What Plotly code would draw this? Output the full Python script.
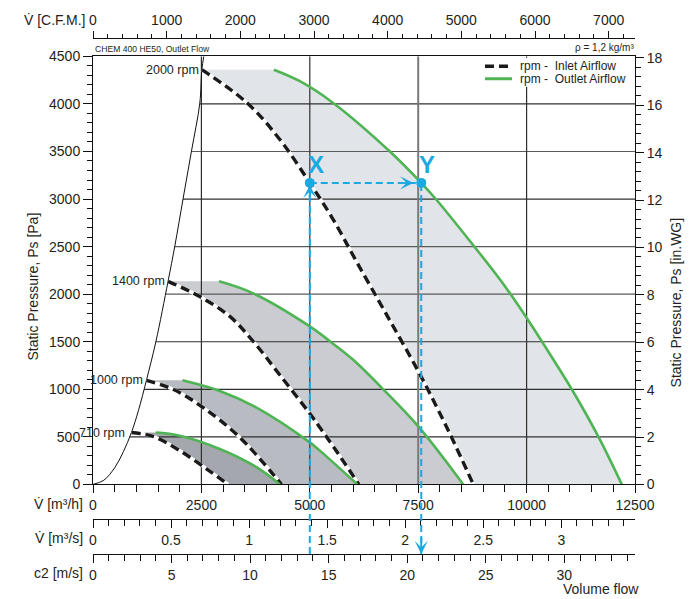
import numpy as np
import plotly.graph_objects as go

# ---------------- data ----------------
flow_ticks = [0, 2500, 5000, 7500, 10000, 12500]          # m3/h
cfm_ticks = [0, 1000, 2000, 3000, 4000, 5000, 6000, 7000]  # CFM
ms_ticks = [0, 0.5, 1, 1.5, 2, 2.5, 3]                     # m3/s
c2_ticks = [0, 5, 10, 15, 20, 25, 30]                      # m/s
pa_ticks = [0, 500, 1000, 1500, 2000, 2500, 3000, 3500, 4000, 4500]
inwg_ticks = [0, 2, 4, 6, 8, 10, 12, 14, 16, 18]

rpm_labels = ["2000 rpm", "1400 rpm", "1000 rpm", "710 rpm"]

inlet_2000_q = [2510, 3547, 4309, 5000, 5532, 6079, 6771, 7540, 8232, 8770]
inlet_2000_ps = [4360, 4013, 3626, 3170, 2790, 2341, 1784, 1157, 530, 0]
outlet_2000_q = [4170, 4770, 5532, 6847, 7570, 7925, 8763, 9425, 10002, 10349, 11041, 11655, 12195]
outlet_2000_ps = [4360, 4239, 4013, 3500, 3170, 2990, 2518, 2130, 1750, 1505, 1000, 502, 0]

inlet_1400_q = [1731, 2462, 3155, 3693, 4309, 5000, 5232, 5539, 6132]
inlet_1400_ps = [2135, 1975, 1766, 1505, 1150, 745, 599, 400, 0]
outlet_1400_q = [2907, 3693, 5000, 5463, 6000, 6693, 7540, 8539]
outlet_1400_ps = [2135, 2009, 1661, 1505, 1310, 1000, 590, 0]

inlet_1000_q = [1232, 1846, 2539, 3386, 4348]
inlet_1000_ps = [1094, 1000, 808, 494, 0]
outlet_1000_q = [2063, 2924, 3771, 5000, 5232, 6097]
outlet_1000_ps = [1094, 982, 808, 442, 355, 0]

inlet_710_q = [886, 1385, 2001, 2617, 3116]
inlet_710_ps = [545, 505, 355, 164, 0]
outlet_710_q = [1447, 2001, 2924, 3771, 4309]
outlet_710_ps = [545, 512, 373, 181, 0]

limit_q = [0, 250, 500, 700, 886, 1050, 1232, 1450, 1731, 1888, 2079, 2272, 2463, 2510, 2555]
limit_ps = [0, 44, 175, 343, 545, 780, 1094, 1500, 2135, 2508, 3007, 3506, 4008, 4360, 4500]

point_q = [5000, 7570]
point_ps = [3170, 3170]
point_labels = ["X", "Y"]

# ---------------- geometry / styles ----------------
W, H = 689, 599
L, R, T, B = 93, 54, 30, 45
PW = W - L - R
PH = H - T - B
FONT = "Liberation Sans, Arial, Helvetica, sans-serif"
TXT = "#231f20"
BLUE = "#1ca9e1"
GREEN = "#4fb453"
PA_MAX = 4500.0
PA_PER_INWG = 249.089
M3H_PER_CFM = 1.699


def xp(px):
    return (px - L) / PW


def yp(py):
    return (H - B - py) / PH


DOM = [yp(484), yp(53.5)]


def ps_to_paper(ps):
    return DOM[0] + ps / PA_MAX * (DOM[1] - DOM[0])


curves = [
    (inlet_2000_q, inlet_2000_ps, outlet_2000_q, outlet_2000_ps, "#e1e4e9"),
    (inlet_1400_q, inlet_1400_ps, outlet_1400_q, outlet_1400_ps, "#caccd2"),
    (inlet_1000_q, inlet_1000_ps, outlet_1000_q, outlet_1000_ps, "#b8bbc1"),
    (inlet_710_q, inlet_710_ps, outlet_710_q, outlet_710_ps, "#a4a7ad"),
]

fig = go.Figure()

# filled operating ranges
for iq, ips, oq, ops, col in curves:
    fig.add_trace(go.Scatter(
        x=list(iq) + list(oq)[::-1], y=list(ips) + list(ops)[::-1],
        fill="toself", fillcolor=col, mode="lines", line=dict(width=0, color=col),
        hoverinfo="skip", showlegend=False))

# grid lines (horizontal start at the limit curve)
for lvl in pa_ticks[1:-1]:
    start = float(np.interp(lvl, limit_ps, limit_q))
    gcol = "#5a5a5a" if lvl in (2000, 2500, 3500) else "#303030"
    fig.add_trace(go.Scatter(x=[start, flow_ticks[-1]], y=[lvl, lvl], mode="lines",
                             line=dict(color=gcol, width=1.2), hoverinfo="skip", showlegend=False))
for v in flow_ticks[1:-1]:
    gcol = "#7a7a7a" if v == 7500 else "#303030"
    gw = 2 if v == 7500 else 1.2
    fig.add_trace(go.Scatter(x=[v, v], y=[0, PA_MAX], mode="lines",
                             line=dict(color=gcol, width=gw), hoverinfo="skip", showlegend=False))

# limit curve
fig.add_trace(go.Scatter(x=limit_q, y=limit_ps, mode="lines", line=dict(color="#111", width=1, shape="spline"),
                         hoverinfo="skip", showlegend=False))

# fan curves
for iq, ips, oq, ops, col in curves:
    fig.add_trace(go.Scatter(x=iq, y=ips, mode="lines", line=dict(color="white", width=3.4, shape="spline"),
                             hoverinfo="skip", showlegend=False))
    fig.add_trace(go.Scatter(x=iq, y=ips, mode="lines",
                             line=dict(color="#1a1a1a", width=3.4, dash="9px,5px", shape="spline"),
                             hoverinfo="skip", showlegend=False))
    fig.add_trace(go.Scatter(x=oq, y=ops, mode="lines", line=dict(color=GREEN, width=2.6, shape="spline"),
                             hoverinfo="skip", showlegend=False))

# X / Y points
fig.add_trace(go.Scatter(x=point_q, y=point_ps, mode="markers", marker=dict(color=BLUE, size=10),
                         cliponaxis=False, hoverinfo="skip", showlegend=False))

# dummy traces so the extra axes are drawn
for xa, ya in (("x2", "y"), ("x3", "y"), ("x4", "y"), ("x", "y2")):
    fig.add_trace(go.Scatter(x=[0], y=[0], xaxis=xa, yaxis=ya, mode="markers",
                             marker=dict(opacity=0), hoverinfo="skip", showlegend=False))

tickfont = dict(family=FONT, size=14, color=TXT)
common = dict(showline=True, linecolor="#111", linewidth=1, showgrid=False, zeroline=False,
              tickcolor="#111", tickwidth=1, tickfont=tickfont, fixedrange=True)

fig.update_layout(
    width=W, height=H, autosize=False,
    margin=dict(l=L, r=R, t=T, b=B, pad=0),
    paper_bgcolor="white", plot_bgcolor="white",
    font=dict(family=FONT, color=TXT),
    showlegend=False,
    xaxis=dict(common, domain=[0, 1], range=[0, flow_ticks[-1]], anchor="y", mirror=True,
               tickmode="array", tickvals=flow_ticks, ticktext=[str(v) for v in flow_ticks],
               ticks="outside", ticklen=8,
               minor=dict(tickmode="linear", tick0=0, dtick=500, ticks="outside", ticklen=7, tickcolor="#111")),
    xaxis2=dict(common, overlaying="x", side="top", anchor="free", position=yp(35),
                range=[0, flow_ticks[-1] / M3H_PER_CFM],
                tickmode="array", tickvals=cfm_ticks, ticktext=[str(v) for v in cfm_ticks],
                ticks="outside", ticklen=7,
                minor=dict(tickmode="linear", tick0=0, dtick=200, ticks="outside", ticklen=4, tickcolor="#111")),
    xaxis3=dict(common, overlaying="x", side="bottom", anchor="free", position=yp(519),
                range=[0, flow_ticks[-1] / 3600.0],
                tickmode="array", tickvals=ms_ticks, ticktext=[("%g" % v) for v in ms_ticks],
                ticks="outside", ticklen=8,
                minor=dict(tickmode="linear", tick0=0, dtick=0.1, ticks="outside", ticklen=6, tickcolor="#111")),
    xaxis4=dict(common, overlaying="x", side="bottom", anchor="free", position=0,
                range=[0, 34.5],
                tickmode="array", tickvals=c2_ticks, ticktext=[str(v) for v in c2_ticks],
                ticks="outside", ticklen=8,
                minor=dict(tickmode="linear", tick0=0, dtick=1, ticks="outside", ticklen=6, tickcolor="#111")),
    yaxis=dict(common, domain=DOM, range=[0, PA_MAX], anchor="x",
               tickmode="array", tickvals=pa_ticks, ticktext=[str(v) for v in pa_ticks],
               ticks="outside", ticklen=9,
               minor=dict(tickmode="linear", tick0=0, dtick=100, ticks="outside", ticklen=5, tickcolor="#111")),
    yaxis2=dict(common, overlaying="y", side="right", anchor="x", range=[0, PA_MAX / PA_PER_INWG],
                tickmode="array", tickvals=inwg_ticks, ticktext=[str(v) for v in inwg_ticks],
                ticks="outside", ticklen=8,
                minor=dict(tickmode="linear", tick0=0, dtick=0.4, ticks="outside", ticklen=5, tickcolor="#111")),
)

ann = []


def ptext(text, x, y, size=14, xanchor="center", angle=0, color=TXT):
    ann.append(dict(text=text, x=xp(x), y=yp(y), xref="paper", yref="paper", showarrow=False,
                    xanchor=xanchor, yanchor="middle", textangle=angle,
                    font=dict(family=FONT, size=size, color=color)))


ptext("V\u0307 [C.F.M.]", 87, 17, xanchor="right")
ptext("V\u0307 [m\u00b3/h]", 85, 504, xanchor="right")
ptext("V\u0307 [m\u00b3/s]", 85, 538, xanchor="right")
ptext("c2 [m/s]", 85, 573, xanchor="right")
ptext("Static Pressure, Ps [Pa]", 33, 285, angle=-90)
ptext("Static Pressure, Ps [in.WG]", 676, 301, angle=-90)
ptext("CHEM 400 HE50, Outlet Flow", 93, 46, size=8.6, xanchor="left")
ptext("\u03c1 = 1,2 kg/m\u00b3", 636, 45, size=10, xanchor="right")
ptext("Volume flow", 641, 589, size=14, xanchor="right")
ptext("rpm -  Inlet Airflow", 518, 63, size=12, xanchor="left")
ptext("rpm -  Outlet Airflow", 518, 76.5, size=12, xanchor="left")

# rpm labels at the start of each inlet curve
for (iq, ips, oq, ops, col), lab in zip(curves, rpm_labels):
    ann.append(dict(text=lab, x=iq[0], y=ips[0], xref="x", yref="y", showarrow=False,
                    xanchor="right", yanchor="middle", xshift=-4 if lab.startswith("710") else -1,
                    font=dict(family=FONT, size=12.5, color=TXT)))

# X / Y letters
for q, ps, lab in zip(point_q, point_ps, point_labels):
    ann.append(dict(text="<b>%s</b>" % lab, x=q, y=ps, xref="x", yref="y", showarrow=False,
                    xanchor="center", yanchor="middle", xshift=6, yshift=18,
                    font=dict(family=FONT, size=24, color=BLUE)))

arrow = dict(showarrow=True, text="", arrowhead=3, arrowsize=1.1, arrowwidth=2, arrowcolor=BLUE,
             axref="pixel", ayref="pixel")
ann.append(dict(arrow, x=point_q[0], y=point_ps[0], xref="x", yref="y", ax=0, ay=16, standoff=2))
ann.append(dict(arrow, x=point_q[1], y=point_ps[1], xref="x", yref="y", ax=-18, ay=0, standoff=8))
ann.append(dict(arrow, x=point_q[1], y=0, xref="x", yref="paper", ax=0, ay=-18, standoff=0))

shapes = []
# legend box + samples
shapes.append(dict(type="rect", xref="paper", yref="paper", x0=xp(480), x1=xp(633), y0=yp(84), y1=yp(55),
                   fillcolor="white", line=dict(width=0), layer="above"))
shapes.append(dict(type="line", xref="paper", yref="paper", x0=xp(485), x1=xp(512), y0=yp(63.5), y1=yp(63.5),
                   line=dict(color="#1a1a1a", width=3.4, dash="9px,5px"), layer="above"))
shapes.append(dict(type="line", xref="paper", yref="paper", x0=xp(485), x1=xp(512), y0=yp(76), y1=yp(76),
                   line=dict(color=GREEN, width=3), layer="above"))
# blue construction lines
bl = dict(color=BLUE, width=2, dash="7px,4px")
shapes.append(dict(type="line", xref="x", yref="y", x0=point_q[0], x1=point_q[1], y0=point_ps[0], y1=point_ps[1],
                   line=bl, layer="above"))
for q, ps in zip(point_q, point_ps):
    shapes.append(dict(type="line", xref="x", yref="paper", x0=q, x1=q, y0=0, y1=ps_to_paper(ps),
                       line=bl, layer="above"))

fig.update_layout(annotations=ann, shapes=shapes)

fig.write_html("out.html",
               config={"displayModeBar": False, "staticPlot": True},
               post_script="document.body.style.margin='0';document.body.style.padding='0';"
                           "document.body.style.overflow='hidden';")
